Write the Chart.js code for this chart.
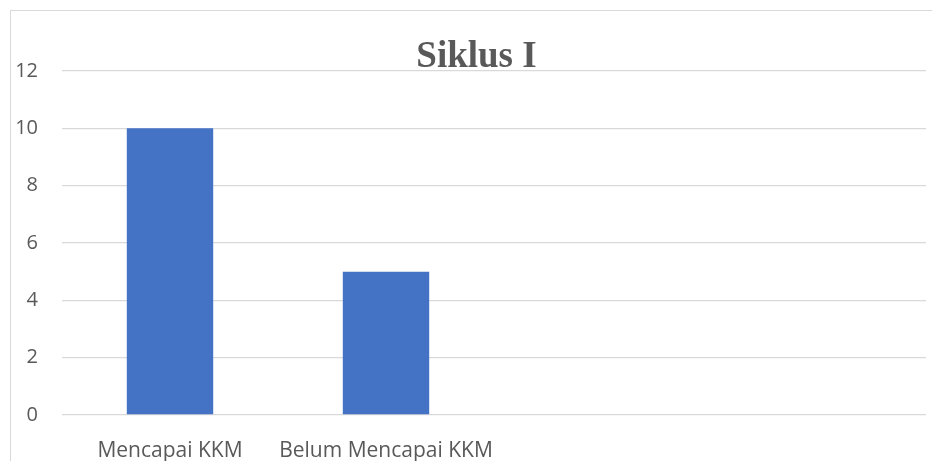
<!DOCTYPE html>
<html>
<head>
<meta charset="utf-8">
<script src="https://cdn.jsdelivr.net/npm/chart.js@4.4.0/dist/chart.umd.min.js"></script>
<style>
  html, body { margin: 0; padding: 0; background: #fff; }
  .bingkai {
    position: absolute; left: 10px; top: 10px;
    width: 921px; height: 450px;
    border-top: 1px solid #d9d9d9; border-left: 1px solid #d9d9d9;
  }
  canvas { display: block; }
</style>
</head>
<body>
<div class="bingkai">
  <canvas id="grafik-siklus" width="921" height="450"></canvas>
</div>
<script>
const kategori = ["Mencapai KKM", "Belum Mencapai KKM", "", ""]
const jumlahSiswa = [10, 5]
const tickY = [0, 2, 4, 6, 8, 10, 12]
const judul = "Siklus I"

const abu = "#595959"
const garis = "#d9d9d9"

// Judul digambar sendiri supaya posisinya sedikit ke kanan seperti aslinya
const pluginJudul = {
    id: "judul",
    afterDraw(chart) {
        const ctx = chart.ctx
        ctx.save()
        ctx.font = "bold 37px 'Liberation Serif'"
        ctx.fillStyle = abu
        ctx.textAlign = "center"
        ctx.textBaseline = "alphabetic"
        ctx.fillText(judul, 465.5, 55.5)
        ctx.restore()
    },
}

const data = {
    labels: kategori,
    datasets: [{
        label: judul,
        data: jumlahSiswa,
        backgroundColor: "#4472c4",
        barPercentage: 1,
        categoryPercentage: 0.4,
    }],
}

const config = {
    type: "bar",
    data: data,
    options: {
        responsive: false,
        animation: false,
        layout: { padding: { left: 0, right: 6, top: 60, bottom: 0 } },
        plugins: {
            legend: { display: false },
            tooltip: { enabled: false },
            title: { display: false },
        },
        scales: {
            x: {
                grid: { display: false },
                border: { display: false },
                ticks: {
                    color: abu,
                    padding: 15,
                    maxRotation: 0,
                    autoSkip: false,
                    font: { family: "Open Sans", size: 21 },
                },
                afterFit: (skala) => { skala.height = 46 },
            },
            y: {
                min: tickY[0],
                max: tickY[tickY.length - 1],
                grid: { color: garis, lineWidth: 1.3, drawTicks: false },
                border: { display: false },
                ticks: {
                    stepSize: tickY[1] - tickY[0],
                    color: abu,
                    padding: 24,
                    font: { family: "Open Sans", size: 20 },
                },
                afterFit: (skala) => { skala.width = 51 },
            },
        },
    },
    plugins: [pluginJudul],
}

const grafik = new Chart(document.querySelector("#grafik-siklus"), config)
</script>
</body>
</html>
